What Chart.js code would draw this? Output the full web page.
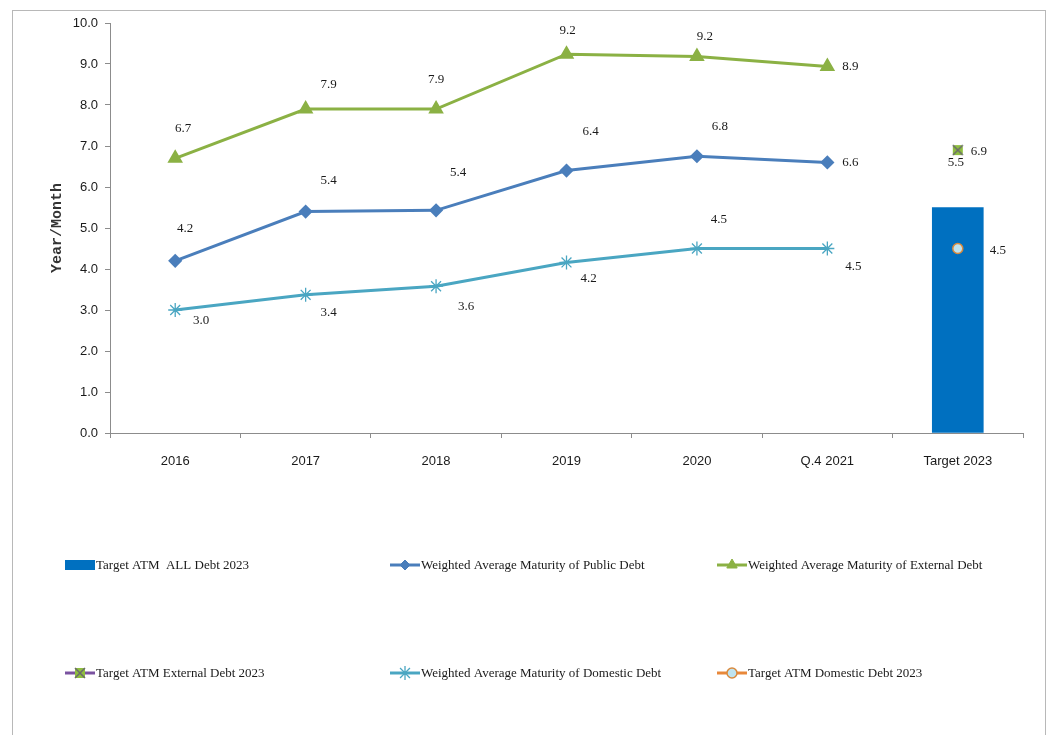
<!DOCTYPE html>
<html>
<head>
<meta charset="utf-8">
<script src="https://cdn.jsdelivr.net/npm/chart.js@4.4.1/dist/chart.umd.min.js"></script>
<style>
  body{margin:0;background:#fff;}
  #wrap{position:relative;width:1057px;height:735px;}
  #frame{position:absolute;left:12px;top:10px;width:1032px;height:730px;border:1px solid #b8b8b8;}
  canvas{position:absolute;left:0;top:0;}
</style>
</head>
<body>
<div id="wrap">
  <div id="frame"></div>
  <canvas id="c" width="1057" height="735"></canvas>
</div>
<script>
// data
const categories=['2016','2017','2018','2019','2020','Q.4 2021','Target 2023'];
const targetAllDebt=[null,null,null,null,null,null,5.5];
const publicDebt=[4.2,5.4,5.43,6.4,6.75,6.6,null];
const externalDebt=[6.7,7.9,7.9,9.24,9.18,8.94,null];
const targetExternalDebt=[null,null,null,null,null,null,6.9];
const domesticDebt=[3.0,3.37,3.58,4.16,4.5,4.5,null];
const targetDomesticDebt=[null,null,null,null,null,null,4.5];
const yTicks=[0,1,2,3,4,5,6,7,8,9,10];

const serif="'Liberation Serif','Times New Roman',serif";
const sans="'Liberation Sans Narrow','Liberation Sans',Arial,sans-serif";

// green square with grey cross, used for the external target marker
function crossBox(){
  const cv=document.createElement('canvas');
  cv.width=12; cv.height=12;
  const g=cv.getContext('2d');
  g.fillStyle='#8fbf3f'; g.fillRect(1,1,10,10);
  g.strokeStyle='#6b6b6b'; g.lineWidth=1.5;
  g.beginPath(); g.moveTo(1,1); g.lineTo(11,11); g.moveTo(11,1); g.lineTo(1,11); g.stroke();
  return cv;
}
const crossImg=crossBox();

// value labels next to the marks
const valueLabels={
  id:'valueLabels',
  afterDatasetsDraw(chart){
    const ctx=chart.ctx;
    ctx.save();
    ctx.font='13px '+serif;
    ctx.fillStyle='#1a1a1a';
    ctx.textAlign='center';
    ctx.textBaseline='middle';
    chart.data.datasets.forEach((ds,di)=>{
      const meta=chart.getDatasetMeta(di);
      ds.data.forEach((v,i)=>{
        if(v===null) return;
        const el=meta.data[i];
        const off=(ds.labelOffsets&&ds.labelOffsets[i])||[0,-20];
        ctx.fillText(v.toFixed(1),el.x+off[0],el.y+off[1]);
      });
    });
    ctx.restore();
  }
};

// legend laid out in a 3x2 grid like the original
const gridLegend={
  id:'gridLegend',
  afterDraw(chart,args,opts){
    const ctx=chart.ctx;
    ctx.save();
    ctx.font='13px '+serif;
    ctx.textBaseline='middle';
    chart.data.datasets.forEach((ds,i)=>{
      const x=opts.cols[i%3], y=opts.rows[Math.floor(i/3)];
      if(ds.type==='bar'){
        ctx.fillStyle=ds.backgroundColor;
        ctx.fillRect(x,y-5,30,10);
      }else{
        ctx.strokeStyle=ds.legendLine||ds.borderColor;
        ctx.lineWidth=3;
        ctx.beginPath(); ctx.moveTo(x,y); ctx.lineTo(x+30,y); ctx.stroke();
        ctx.fillStyle=ds.pointBackgroundColor||ds.borderColor;
        ctx.strokeStyle=ds.pointBorderColor||ds.borderColor;
        ctx.lineWidth=ds.pointBorderWidth||1;
        Chart.helpers.drawPoint(ctx,{
          pointStyle:ds.pointStyle,radius:ds.pointRadius,rotation:0,
          borderWidth:ds.pointBorderWidth||1
        },x+15,y);
      }
      ctx.fillStyle='#1a1a1a';
      ctx.fillText(ds.label,x+31,y+1);
    });
    ctx.restore();
  }
};

new Chart(document.getElementById('c'),{
  data:{
    labels:categories,
    datasets:[
      {type:'bar',label:'Target ATM  ALL Debt 2023',data:targetAllDebt,
        backgroundColor:'#0070c0',borderColor:'#0070c0',barThickness:51,order:10,
        labelOffsets:{6:[-2,-45]}},
      {type:'line',label:'Weighted Average Maturity of Public Debt',data:publicDebt,
        borderColor:'#4a7ebb',backgroundColor:'#4a7ebb',borderWidth:3,
        pointStyle:'rectRot',pointRadius:5,pointBackgroundColor:'#4a7ebb',pointBorderColor:'#4a7ebb',
        labelOffsets:[[10,-32],[23,-31],[22,-38],[24,-39],[23,-30],[23,0]]},
      {type:'line',label:'Weighted Average Maturity of External Debt',data:externalDebt,
        borderColor:'#8bb144',backgroundColor:'#8bb144',borderWidth:3,
        pointStyle:'triangle',pointRadius:6,pointBackgroundColor:'#8bb144',pointBorderColor:'#8bb144',
        labelOffsets:[[8,-30],[23,-25],[0,-30],[1,-24],[8,-20],[23,0]]},
      {type:'line',label:'Target ATM External Debt 2023',data:targetExternalDebt,
        borderColor:'#7a52a0',legendLine:'#7a52a0',borderWidth:3,
        pointStyle:crossImg,pointRadius:6,
        labelOffsets:{6:[21,1]}},
      {type:'line',label:'Weighted Average Maturity of Domestic Debt',data:domesticDebt,
        borderColor:'#4aa6c2',backgroundColor:'#4aa6c2',borderWidth:3,
        pointStyle:'star',pointRadius:7,pointBorderWidth:1.3,pointBackgroundColor:'#4aa6c2',pointBorderColor:'#4aa6c2',
        labelOffsets:[[26,11],[23,18],[30,20],[22,16],[22,-29],[26,18]]},
      {type:'line',label:'Target ATM Domestic Debt 2023',data:targetDomesticDebt,
        borderColor:'#e8883a',borderWidth:3,
        pointStyle:'circle',pointRadius:5,pointBorderWidth:1.5,
        pointBackgroundColor:'#bfe3ef',pointBorderColor:'#d9893c',
        labelOffsets:{6:[40,2]}}
    ]
  },
  options:{
    responsive:false,
    animation:false,
    layout:{padding:{left:0,right:34,top:23,bottom:262}},
    plugins:{
      legend:{display:false},
      tooltip:{enabled:false},
      gridLegend:{cols:[65,390,717],rows:[565,673]}
    },
    scales:{
      x:{
        offset:true,
        grid:{display:true,drawOnChartArea:false,offset:true,tickLength:5,color:'#8c8c8c'},
        border:{color:'#8c8c8c',width:1},
        ticks:{color:'#1a1a1a',font:{family:sans,size:13},padding:16,maxRotation:0},
        afterFit(s){ s.height=40; }
      },
      y:{
        min:0,max:10,
        afterBuildTicks(s){ s.ticks=yTicks.map(v=>({value:v})); },
        grid:{display:true,drawOnChartArea:false,tickLength:5,color:'#8c8c8c'},
        border:{color:'#8c8c8c',width:1},
        ticks:{color:'#1a1a1a',font:{family:sans,size:13},padding:7,callback:v=>v.toFixed(1)},
        title:{display:true,text:'Year/Month',color:'#333',padding:{top:48,bottom:0},
          font:{family:"'Liberation Mono','Courier New',monospace",size:15,weight:'bold'}},
        afterFit(s){ s.width=110; }
      }
    }
  },
  plugins:[valueLabels,gridLegend]
});
</script>
</body>
</html>
